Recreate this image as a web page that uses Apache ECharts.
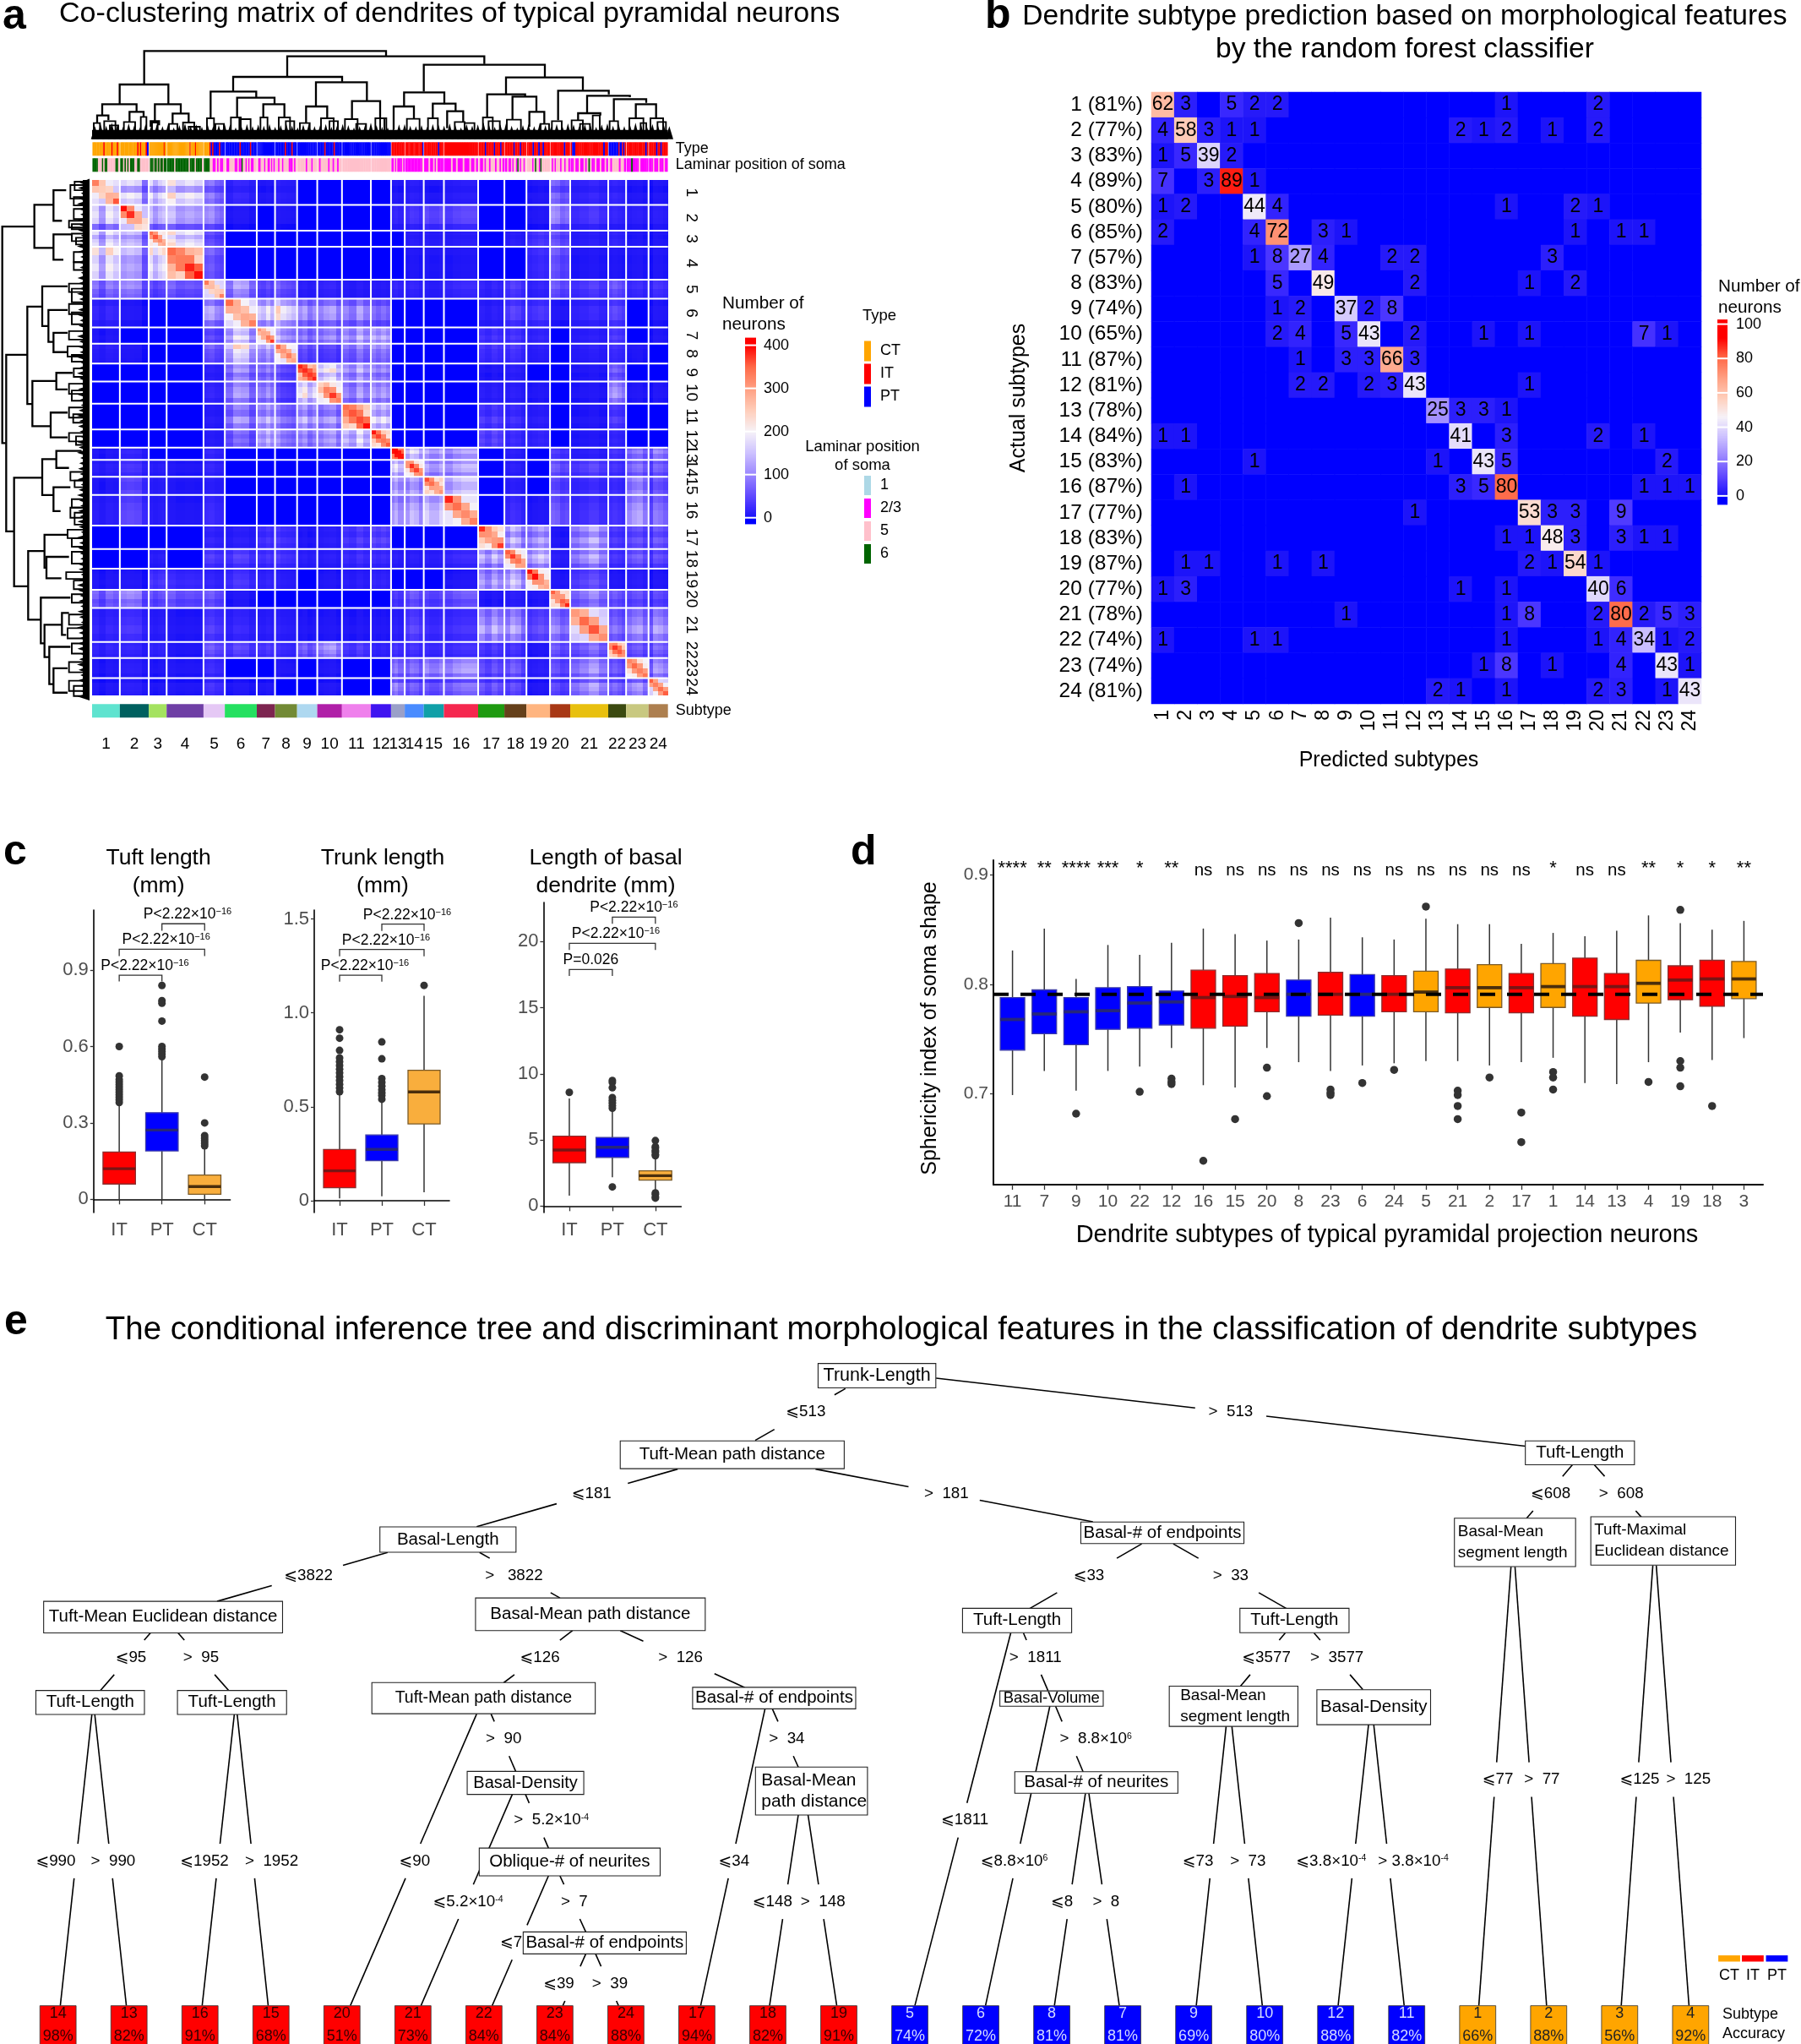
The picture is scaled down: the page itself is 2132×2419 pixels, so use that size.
<!DOCTYPE html>
<html><head><meta charset="utf-8">
<style>html,body{margin:0;padding:0;background:#fff}#c{width:2132px;height:2419px}</style>
<script src="https://cdn.jsdelivr.net/npm/echarts@6/dist/echarts.min.js"></script>
</head><body><div id="c"></div>
<script>
// ---------- DATA ----------
const subtypeNames=Array.from({length:24},(_,i)=>String(i+1));
// panel a: block sizes (neurons per cluster in the matrix)
const blockSizes=[73,76,47,97,56,84,48,58,53,65,76,53,36,50,53,90,69,58,62,53,100,47,59,51];
const subtypeColors=['#5fe3cf','#00605f','#a4e260','#6f3fa5','#e5c8f5','#25e060','#7d2550','#728a35','#aed8f0','#b020a8','#ef80ec','#3f14f0','#9aa0c8','#4a8cff','#10a0a8','#f5284f','#1f9a10','#65401a','#ffb580','#a83815','#e8c00f','#3b4a10','#c8c880','#ad7f4f'];
// upper triangle of mean co-clustering between subtypes
const coUpper=[
[140,150,170,70,15,5,10,0,0,0,0,5,10,5,10,0,0,5,60,15,15,5,5],
[120,110,80,5,0,5,0,0,0,0,15,25,40,40,0,0,5,80,25,15,10,10],
[180,45,0,0,0,0,0,0,0,0,10,10,10,0,10,30,50,10,15,5,5],
[55,0,0,0,0,0,0,0,0,5,5,5,0,0,20,50,5,5,5,5],
[90,40,50,10,15,8,8,15,15,10,20,15,30,15,50,30,50,20,25],
[130,150,85,85,80,60,0,0,0,0,10,30,25,5,15,35,0,5],
[105,75,85,105,115,0,0,0,0,25,25,15,0,10,30,0,5],
[45,35,70,85,0,0,0,0,25,25,10,0,10,20,5,0],
[160,105,90,0,0,0,0,5,10,0,0,5,55,0,0],
[90,100,0,0,0,0,10,10,5,0,5,90,5,5],
[140,0,0,0,0,30,20,10,0,5,30,0,0],
[0,0,0,0,40,20,15,0,5,15,0,0],
[140,110,105,0,10,0,30,10,25,70,80],
[105,115,0,10,0,50,35,25,65,55],
[140,0,10,0,40,20,20,85,50],
[0,20,5,55,25,25,100,70],
[110,100,5,100,30,45,50],
[115,10,90,25,50,40],
[5,40,5,10,5],
[75,50,45,40],
[60,85,90],
[50,60],
[90]];
// diagonal blocks: four values along the diagonal, then the rest of the block
const coDiag=[[330,250,280,360,195],[395,380,290,220,195],[345,360,320,290,225],[350,335,385,395,290],[335,270,250,330,195],[350,280,290,330,225],[310,290,335,375,225],[350,310,330,295,215],[385,380,375,385,320],[245,330,375,330,235],[345,360,365,395,290],[390,370,340,360,265],[398,398,395,395,385],[310,380,370,325,245],[365,345,295,310,255],[385,345,320,330,215],[380,310,305,375,255],[355,375,340,300,245],[395,395,310,290,235],[355,310,355,385,255],[305,350,360,315,195],[315,375,360,310,290],[325,350,330,340,245],[355,330,345,355,215]];
// plaid profile across each subtype
const coProfile=[[1.1,.7,1.2,1],[1.1,1.2,1.1,.5],[1.1,.8,1,1.1],[1.2,.9,1,.9],[1.1,1.2,.9,.8],[.8,1.3,1.2,.7],[1,.9,1.2,.9],[1.3,1,.9,.8],[1,1.2,.8,1],[.9,1.1,1.2,.8],[1,.8,1.3,.9],[1.1,.9,1.1,.9],[1,1.2,.9,.9],[.9,1.2,1.1,.8],[1.1,.9,.9,1.1],[.8,1,1.1,1.1],[1.1,.8,1.2,.9],[.9,1.3,1.1,.7],[.8,1,1.2,1],[1.2,1.1,.8,.9],[.8,1,1.3,.9],[1,1.2,1,.8],[.9,1.1,1.2,.8],[.6,1.2,1.1,.9]];
// annotation stripes, one string per subtype
const typeStripes=["CCCCCCCCICCCCCICCCIC","CCCCCCCCCCCCICICCCIP","CCCCCCCCCCCCCCCCCICC","CCCCCCCCCCCCCCCCCCCCCCCCCICCCCCICCCCCCCC","CCCCIPIPPPPIPPP","PPPPPPPPPPPIPPPPPPPIPPPP","PPPPPPPPPPPPPPPPPPPP","PPPPPPPIPPPPIPPP","PPPPPPPPPPPP","PPPPPIPPPPPPIPPPPP","PPPPPPPPPPPPPPPPPP","PPPPPPPPPPPP","IIIIIIIIII","IIIIIIIIIIIIIIIIIP","IIIIIIIIIIPIII","IIIIIIIIIIIIIIIIIIII","IIIIIPIIIIIIPIIIIPII","IIIIIIIPIIIIPIIII","IIIIPIIIPIIPIIII","IIIIIIIIIPIII","IPPIIIIIIIIIIIIIIIIIIPII","PPPPPPPPIPPIPI","IIIIIIIIIIIIIPI","IIIIIPIIPIIII"];
const laminarStripes=["66665556566555555665","66565656665566555555","56666566656656665666","666666566666666666566665666665","66665522525225","52255552252265525252255","522555255225252","5525525555222525","55555525552555","5255555255255255","5555555555555555","555555555555","22525222252","2222222222222225","2225225252222","22225225222522252252","52252552555255252","22522525526525525","55552565526555555","52525552552552","22522522525652252252252","5255552552","22262222522222","22252225222522"];
// top dendrogram: [x1,x2,yTop,yLeftEnd,yRightEnd]
const topMerges=[[197,1056,16,135,35],[110,283,135,205,205],[48,170,205,245,232],[235,327,205,265,238],[30,70,245,272,262],[145,195,232,268,250],[220,250,265,285,280],[298,355,238,275,268],[705,1405,35,108,62],[513,900,108,160,125],[433,595,160,255,180],[527,660,182,250,205],[620,695,205,250,250],[807,988,127,212,192],[772,847,213,272,252],[935,1035,194,255,255],[1190,1620,65,160,108],[1120,1263,163,215,205],[1083,1155,213,295,255],[1222,1303,203,255,230],[1273,1330,230,290,268],[1482,1755,110,170,155],[1415,1550,170,250,178],[1505,1590,178,258,232],[1565,1618,232,285,275],[1667,1847,157,262,170],[1770,1922,175,235,180],[1865,1980,187,265,200],[1943,2015,205,255,255],[1738,1817,237,262,245]];
const topSmall=[[18,40,272],[55,95,265],[75,105,280],[125,165,268],[185,205,250],[225,245,270],[285,315,275],[335,375,270],[355,395,285],[420,445,255],[450,480,275],[505,540,252],[535,575,258],[610,635,252],[675,715,252],[700,730,265],[750,785,272],[825,870,255],[855,885,265],[910,955,258],[950,985,275],[1018,1050,255],[1035,1057,255],[1130,1175,257],[1205,1240,255],[1300,1335,268],[1335,1370,272],[1400,1435,252],[1420,1460,265],[1485,1535,260],[1605,1635,275],[1645,1680,265],[1715,1755,262],[1745,1780,275],[1790,1815,245],[1850,1880,265],[1920,1970,255],[1960,1980,272],[1995,2040,255],[2020,2050,268]];
const topMass=[292,284,290,280,286,294,282,288,296,284,290,286,292,284,296,288,282,290,286,294,284,292,288,280,286,296,290,284,292,286,290,284,294,288,284,290,296,286,282,292,288,284,294,290,284,288,296,292,286,280,288,294,296,298,286,284,290,292,288,294,284,286,290,282,288,296,284,290,286,278,288,294,286,282,290,296,288,284,292,280,288,294,284,290,282,286,292,284,288,294,286,282,290,284,292,286,280,288,292,284,290,286,292];
// left dendrogram: [y1,y2,xStem,xTopEnd,xBottomEnd]
const leftMerges=[[157,795,8,122,20],[93,220,122,190,190],[50,140,190,235,220],[180,255,190,252,225],[535,1055,22,97,50],[393,680,97,150,115],[333,450,150,240,172],[403,497,172,240,190],[470,527,190,240,240],[612,745,115,200,180],[588,637,200,258,240],[705,778,180,240,240],[897,1217,50,150,100],[842,948,150,200,190],[818,868,200,290,245],[925,995,190,250,215],[1113,1315,100,158,145],[1065,1162,158,238,165],[1130,1193,165,245,218],[1250,1385,145,250,158],[1330,1425,158,220,175],[1295,1360,220,245,235],[1395,1505,175,250,190],[1458,1530,190,240,240]];
const leftSmall=[[25,50,265],[35,75,250],[70,95,262],[105,135,262],[140,160,245],[150,165,255],[178,200,255],[190,210,270],[232,262,262],[262,285,262],[325,350,245],[340,380,255],[385,415,245],[410,445,255],[465,490,245],[510,540,240],[535,555,255],[575,600,262],[620,650,245],[640,670,255],[690,720,245],[710,735,260],[765,790,245],[775,800,270],[880,905,250],[905,925,265],[960,985,255],[985,1015,250],[1000,1035,265],[1050,1075,240],[1075,1100,255],[1115,1150,255],[1175,1195,235],[1200,1225,262],[1240,1265,255],[1300,1330,245],[1340,1370,240],[1385,1415,255],[1440,1470,245],[1495,1525,245],[1510,1540,262]];
const leftMass=[292,286,296,288,282,290,294,284,292,286,296,290,282,288,294,286,292,296,284,288,292,282,290,296,286,284,292,288,296,282,290,286,292,284,296,288,282,290,294,286,284,292,296,288,282,290,286,292,296,284,288,282,294,290,286,292,284,296,288,282,290,294,286,292,284,288,296,282,290,286,292,294,284,288,296,290,282,286,292,288,294,284,290,296,282,288,292,286,284,296,290,282,288,294,286,292,296,284];

// panel b
const predictedPct=[81,77,83,89,80,85,57,83,74,65,87,81,78,84,83,87,77,83,87,77,78,74,74,81];
const confusion=[
[62,3,0,5,2,2,0,0,0,0,0,0,0,0,0,1,0,0,0,2,0,0,0,0],
[4,58,3,1,1,0,0,0,0,0,0,0,0,2,1,2,0,1,0,2,0,0,0,0],
[1,5,39,2,0,0,0,0,0,0,0,0,0,0,0,0,0,0,0,0,0,0,0,0],
[7,0,3,89,1,0,0,0,0,0,0,0,0,0,0,0,0,0,0,0,0,0,0,0],
[1,2,0,0,44,4,0,0,0,0,0,0,0,0,0,1,0,0,2,1,0,0,0,0],
[2,0,0,0,4,72,0,3,1,0,0,0,0,0,0,0,0,0,1,0,1,1,0,0],
[0,0,0,0,1,8,27,4,0,0,2,2,0,0,0,0,0,3,0,0,0,0,0,0],
[0,0,0,0,0,5,0,49,0,0,0,2,0,0,0,0,1,0,2,0,0,0,0,0],
[0,0,0,0,0,1,2,0,37,2,8,0,0,0,0,0,0,0,0,0,0,0,0,0],
[0,0,0,0,0,2,4,0,5,43,0,2,0,0,1,0,1,0,0,0,0,7,1,0],
[0,0,0,0,0,0,1,0,3,3,66,3,0,0,0,0,0,0,0,0,0,0,0,0],
[0,0,0,0,0,0,2,2,0,2,3,43,0,0,0,0,1,0,0,0,0,0,0,0],
[0,0,0,0,0,0,0,0,0,0,0,0,25,3,3,1,0,0,0,0,0,0,0,0],
[1,1,0,0,0,0,0,0,0,0,0,0,0,41,0,3,0,0,0,2,0,1,0,0],
[0,0,0,0,1,0,0,0,0,0,0,0,1,0,43,5,0,0,0,0,0,0,2,0],
[0,1,0,0,0,0,0,0,0,0,0,0,0,3,5,80,0,0,0,0,0,1,1,1],
[0,0,0,0,0,0,0,0,0,0,0,1,0,0,0,0,53,3,3,0,9,0,0,0],
[0,0,0,0,0,0,0,0,0,0,0,0,0,0,0,1,1,48,3,0,3,1,1,0],
[0,1,1,0,0,1,0,1,0,0,0,0,0,0,0,0,2,1,54,1,0,0,0,0],
[1,3,0,0,0,0,0,0,0,0,0,0,0,1,0,1,0,0,0,40,6,0,0,0],
[0,0,0,0,0,0,0,0,1,0,0,0,0,0,0,1,8,0,0,2,80,2,5,3],
[1,0,0,0,1,1,0,0,0,0,0,0,0,0,0,1,0,0,0,1,4,34,1,2],
[0,0,0,0,0,0,0,0,0,0,0,0,0,0,1,8,0,1,0,0,4,0,43,1],
[0,0,0,0,0,0,0,0,0,0,0,0,2,1,0,1,0,0,0,2,3,0,1,43]];

// panel c: [low whisker, Q1, median, Q3, high whisker] for IT, PT, CT
const cCats=['IT','PT','CT'];
const tuftBox=[[0,.06,.12,.186,.37],[0,.19,.272,.34,.55],[0,.02,.05,.095,.197]];
const tuftOut=[[.6,.485,.47,.46,.45,.44,.43,.42,.41,.40,.39,.38],[.84,.78,.77,.70,.60,.59,.58,.57,.56],[.48,.30,.25,.24,.23,.22,.21]];
const trunkBox=[[.012,.069,.159,.273,.567],[.024,.213,.273,.35,.537],[.045,.409,.579,.694,1.091]];
const trunkOut=[[.91,.865,.80,.76,.74,.72,.70,.68,.66,.64,.62,.60,.58],[.845,.755,.65,.63,.61,.59,.575,.56,.54],[1.146]];
const basalBox=[[.79,3.28,4.24,5.28,8.14],[2.17,3.68,4.45,5.18,7.28],[1.15,1.96,2.3,2.66,3.7]];
const basalOut=[[8.6],[9.5,9.35,8.95,8.2,8,7.8,7.6,7.4,1.45],[4.95,4.5,4.4,4.2,4.1,3.9,3.8,1,.9,.7,.6]];

// panel d
const dOrder=['11','7','9','10','22','12','16','15','20','8','23','6','24','5','21','2','17','1','14','13','4','19','18','3'];
const dTypes=['P','P','P','P','P','P','I','I','I','P','I','P','I','C','I','C','I','C','I','I','C','I','I','C'];
const dSig=['****','**','****','***','*','**','ns','ns','ns','ns','ns','ns','ns','ns','ns','ns','ns','*','ns','ns','**','*','*','**'];
const dBox=[[.699,.740,.768,.788,.831],[.721,.755,.773,.795,.851],[.703,.745,.775,.788,.805],[.721,.759,.776,.797,.836],[.725,.760,.783,.798,.827],[.742,.763,.784,.794,.838],[.708,.760,.788,.813,.851],[.706,.762,.789,.808,.846],[.742,.775,.788,.810,.840],[.729,.771,.791,.804,.841],[.721,.772,.791,.811,.861],[.726,.771,.791,.809,.843],[.728,.775,.791,.808,.841],[.730,.775,.793,.812,.860],[.730,.774,.797,.814,.855],[.726,.779,.797,.818,.855],[.729,.774,.797,.810,.837],[.733,.779,.798,.819,.847],[.710,.771,.798,.824,.844],[.709,.768,.798,.810,.849],[.729,.783,.801,.822,.863],[.756,.786,.804,.817,.856],[.731,.780,.805,.822,.850],[.751,.787,.805,.821,.858]];
const dOut=[[],[],[.682],[],[.702],[.714,.711,.709],[.639],[.677],[.724,.698],[.856],[.704,.701,.699],[.710],[.722],[.871],[.703,.699,.689,.677],[.715],[.683,.656],[.720,.715,.704],[],[],[.711],[.868,.730,.724,.707],[.689],[]];
const dRef=.791;

// panel e
const leafOrder=[14,13,16,15,20,21,22,23,24,17,18,19,5,6,8,7,9,10,12,11,1,2,3,4];
const leafAcc=[98,82,91,68,51,73,84,84,88,94,82,91,74,72,81,81,69,80,88,82,66,88,56,92];
const leafType=['I','I','I','I','I','I','I','I','I','I','I','I','P','P','P','P','P','P','P','P','C','C','C','C'];
// tree-space nodes: [label, x, y, w, h, font, text inset]
const treeNodes=[['Trunk-Length',1527,173,205,51,21.5],['Tuft-Mean path distance',1275,338,390,58,20.5],['Basal-Length',780,515,237,53,20.5],['Tuft-Mean Euclidean distance',284,677,416,66,20.5],['Basal-Mean path distance',1028,671,400,68,20.5],['Tuft-Length',157,855,189,50,20.5],['Tuft-Length',404,855,190,50,20.5],['Tuft-Mean path distance',842,846,389,65,19.5],['Basal-# of endpoints',1348,846,284,45,20.5],['Basal-Density',915,1023,203,48,20],['Basal-Mean\npath distance',1413,1040,195,100,21,7],['Oblique-# of neurites',992,1188,315,58,20.5],['Basal-# of endpoints',1053,1357,284,46,20.5],['Basal-# of endpoints',2024,501,284,45,20.5],['Tuft-Length',2751,334,190,50,20.5],['Basal-Mean\nsegment length',2638,521,211,101,19,4],['Tuft-Maximal\nEuclidean distance',2896,518,252,101,19,4],['Tuft-Length',1771,684,190,51,20.5],['Tuft-Length',2254,684,190,51,20.5],['Basal-Volume',1831,847,180,32,18.5],['Basal-Mean\nsegment length',2148,863,224,84,19,13],['Basal-Density',2392,865,198,73,20.5],['Basal-# of neurites',1909,1022,284,45,20.5]];
// tree-space edges: [x0,y0,x1,y1,label,labelX,labelY]
const LE='\u2A7D', GT='> ';
const treeEdges=[[1472,200,1315,308,LE+'513',1403,249],[1630,178,2656,320,GT+' 513',2143,249],[1180,368,830,488,LE+'181',1030,419],[1420,368,1903,478,GT+' 181',1648,419],[675,542,378,644,LE+'3822',537,590],[835,542,975,637,GT+'  3822',895,590],[262,710,175,830,LE+'95',228,761],[310,710,398,830,GT+' 95',350,761],[997,705,877,814,LE+'126',940,761],[1080,705,1297,824,GT+' 126',1185,761],[160,880,105,1488,LE+'990',97,1186],[165,880,220,1488,GT+' 990',197,1186],[408,880,352,1488,LE+'1952',356,1186],[413,880,467,1488,GT+' 1952',473,1186],[830,879,610,1488,LE+'90',722,1186],[855,879,898,999,GT+' 90',877,931],[892,1047,733,1488,LE+'5.2\u00D710^-4',815,1271],[915,1047,955,1159,GT+' 5.2\u00D710^-4',960,1101],[955,1217,857,1488,LE+'7',890,1356],[975,1217,1020,1334,GT+' 7',1000,1271],[1020,1380,980,1488,LE+'39',973,1442],[1037,1380,1077,1488,GT+' 39',1062,1442],[1332,869,1220,1488,LE+'34',1278,1186],[1345,869,1390,990,GT+' 34',1370,931],[1390,1090,1340,1488,LE+'148',1345,1271],[1407,1090,1457,1488,GT+' 148',1433,1271],[1988,524,1793,659,LE+'33',1896,590],[2043,524,2240,659,GT+' 33',2143,590],[1760,710,1593,1488,LE+'1811',1680,1101],[1782,710,1825,831,GT+' 1811',1803,761],[1828,863,1716,1488,LE+'8.8\u00D710^6',1766,1186],[1838,863,1886,1000,GT+' 8.8\u00D710^6',1908,931],[1890,1045,1836,1488,LE+'8',1849,1271],[1896,1045,1949,1488,GT+' 8',1926,1271],[2238,710,2160,821,LE+'3577',2205,761],[2288,710,2373,828,GT+' 3577',2328,761],[2135,905,2083,1488,LE+'73',2086,1186],[2145,905,2198,1488,GT+' 73',2173,1186],[2383,901,2330,1488,LE+'3.8\u00D710^-4',2318,1186],[2392,901,2445,1488,GT+'3.8\u00D710^-4',2461,1186],[2738,359,2658,471,LE+'608',2700,419],[2776,359,2858,468,GT+' 608',2823,419],[2631,572,2575,1488,LE+'77',2608,1016],[2638,572,2693,1488,GT+' 77',2685,1016],[2878,569,2823,1488,LE+'125',2855,1016],[2884,569,2941,1488,GT+' 125',2940,1016]];

// ---------- HELPERS ----------
const FF='"Liberation Sans","DejaVu Sans",Arial,sans-serif';
const TYPE_COL={C:'#ffa500',I:'#ff0000',P:'#0000ff'};
const LAM_COL={1:'#add8e6',2:'#ff00ff',5:'#ffc0cb',6:'#006400'};
const rampStops=[[0,[0,0,255]],[.012,[32,22,248]],[.06,[60,42,255]],[.125,[95,72,255]],[.25,[154,134,255]],[.375,[204,192,255]],[.5,[246,242,248]],[.625,[255,205,185]],[.75,[255,159,130]],[.875,[255,106,72]],[1,[255,0,0]]];
function ramp(t){t=Math.max(0,Math.min(1,t));for(let i=1;i<rampStops.length;i++){const [a,c0]=rampStops[i-1],[b,c1]=rampStops[i];if(t<=b){const f=(t-a)/(b-a);return 'rgb('+c0.map((c,k)=>Math.round(c+(c1[k]-c)*f)).join(',')+')';}}return 'rgb(255,0,0)';}
const grids=[],xAxes=[],yAxes=[],series=[],texts=[];
const hiddenV=(min,max,extra)=>Object.assign({type:'value',min,max,show:false,scale:false},extra||{});
function addGrid(rect,x,y){grids.push(rect);const n=grids.length-1;xAxes.push(Object.assign({gridIndex:n},x));yAxes.push(Object.assign({gridIndex:n},y));return n;}
function custom(g,arr,fn,extra){series.push(Object.assign({type:'custom',xAxisIndex:g,yAxisIndex:g,coordinateSystem:'cartesian2d',silent:true,clip:false,progressive:0,animation:false,
 data:arr.map((d,i)=>Array.isArray(d)&&d.every(v=>typeof v==='number')?d:[i]),
 renderItem:(p,api)=>fn(arr[p.dataIndex],api,p.dataIndex)},extra||{}));}
const rect=(x0,y0,x1,y1,style)=>({type:'rect',shape:{x:Math.min(x0,x1),y:Math.min(y0,y1),width:Math.abs(x1-x0),height:Math.abs(y1-y0)},style});
const pline=(pts,stroke,w,extra)=>({type:'polyline',shape:{points:pts},style:Object.assign({stroke,lineWidth:w,fill:null},extra||{})});
const txt=(s,x,y,size,opt)=>({type:'text',x,y,style:Object.assign({text:s,font:(opt&&opt.weight?opt.weight+' ':'')+size+'px '+FF,fill:(opt&&opt.fill)||'#000',textAlign:(opt&&opt.align)||'center',textVerticalAlign:(opt&&opt.va)||'middle'},(opt&&opt.style)||{})});
function T(s,x,y,size,opt){opt=opt||{};texts.push({type:'text',x,y,rotation:opt.rot||0,silent:true,z:50,style:{text:s,font:(opt.weight?opt.weight+' ':'')+size+'px '+FF,fill:opt.fill||'#000',textAlign:opt.align||'left',textVerticalAlign:'middle',lineHeight:opt.lh}});}
const textAxisStyle=(size,color)=>({fontFamily:FF,fontSize:size,color:color||'#000'});

// ---------- PANEL A ----------
const totalN=blockSizes.reduce((a,b)=>a+b,0);
const cum=[0];blockSizes.forEach(s=>cum.push(cum[cum.length-1]+s));
const mids=blockSizes.map((s,i)=>cum[i]+s/2);
const midLabel=v=>{let k=0,b=1e9;mids.forEach((m,i)=>{if(Math.abs(m-v)<b){b=Math.abs(m-v);k=i;}});return subtypeNames[k];};
const baseAt=(i,j)=>{if(i===j)return null;const a=Math.min(i,j),b=Math.max(i,j);return coUpper[a][b-a-1];};
const matCells=[];
for(let i=0;i<24;i++)for(let j=0;j<24;j++)for(let a=0;a<4;a++)for(let b=0;b<4;b++){
 let v;
 if(i===j){const D=coDiag[i];
  if(a===b)v=D[a];
  else if(Math.abs(a-b)===1)v=(D[a]+D[b])/2*.65+D[4]*.35;
  else v=D[4]*(0.85+0.3*(coProfile[i][a]*coProfile[i][b]-.85));}
 else v=baseAt(i,j)*coProfile[i][a]*coProfile[j][b];
 matCells.push([cum[j]+blockSizes[j]*b/4,cum[j]+blockSizes[j]*(b+1)/4,cum[i]+blockSizes[i]*a/4,cum[i]+blockSizes[i]*(a+1)/4,v]);
}
const gMat=addGrid({left:109,top:213,width:681.7,height:610},
 {type:'value',min:0,max:totalN,axisLine:{show:false},axisTick:{show:false},splitLine:{show:false},axisLabel:{customValues:mids,formatter:midLabel,margin:48,...textAxisStyle(19)}},
 {type:'value',min:0,max:totalN,inverse:true,position:'right',axisLine:{show:false},axisTick:{show:false},splitLine:{show:false},axisLabel:{customValues:mids,formatter:midLabel,rotate:-90,margin:18,...textAxisStyle(19)}});
custom(gMat,matCells,(d,api)=>{const p0=api.coord([d[0],d[2]]),p1=api.coord([d[1],d[3]]);const x0=Math.round(p0[0]),y0=Math.round(p0[1]),x1=Math.round(p1[0]),y1=Math.round(p1[1]);return {type:'rect',shape:{x:x0,y:y0,width:x1-x0,height:y1-y0},style:{fill:ramp(d[4]/400)}};});
const blockLines=cum.slice(1,-1);
custom(gMat,blockLines.map(v=>[v]),(d,api)=>{const a=api.coord([d[0],0]),b=api.coord([d[0],totalN]),c=api.coord([0,d[0]]),e=api.coord([totalN,d[0]]);return {type:'group',children:[rect(a[0]-1,a[1],a[0]+1,b[1],{fill:'#fff'}),rect(c[0],c[1]-1,e[0],c[1]+1,{fill:'#fff'})]};},{z:3});

function stripBar(top,h,name,strings,colMap){
 const g=addGrid({left:109,top,width:681.7,height:h},hiddenV(0,totalN),
  {type:'value',min:0,max:1,position:'right',axisLine:{show:false},axisTick:{show:false},splitLine:{show:false},axisLabel:{customValues:[.5],formatter:()=>name,margin:9,...textAxisStyle(18)}});
 const stripes=[];
 strings.forEach((s,i)=>{const w=(blockSizes[i]-2)/s.length;for(let k=0;k<s.length;k++)stripes.push([cum[i]+1+w*k,cum[i]+1+w*(k+1),s[k]]);});
 custom(g,stripes,(d,api)=>{const a=api.coord([d[0],0]),b=api.coord([d[1],1]);return rect(a[0],a[1],b[0]+.3,b[1],{fill:colMap[d[2]]});});
}
stripBar(168.3,16,'Type',typeStripes,TYPE_COL);
stripBar(187.3,16,'Laminar position of soma',laminarStripes,LAM_COL);
// subtype bar
const gSub=addGrid({left:109,top:833.3,width:681.7,height:16},hiddenV(0,totalN),
 {type:'value',min:0,max:1,position:'right',axisLine:{show:false},axisTick:{show:false},splitLine:{show:false},axisLabel:{customValues:[.5],formatter:()=>'Subtype',margin:9,...textAxisStyle(18)}});
custom(gSub,blockSizes.map((s,i)=>[cum[i],cum[i+1],i]),(d,api)=>{const a=api.coord([d[0],0]),b=api.coord([d[1],1]);return rect(a[0],a[1],b[0],b[1],{fill:subtypeColors[d[2]]});});

// dendrograms
const gTop=addGrid({left:105,top:55,width:700,height:110},hiddenV(0,2100),hiddenV(0,330,{inverse:true}));
custom(gTop,topMass.map((v,i)=>[i,v]),(d,api)=>{const x=12+d[0]*20;const a=api.coord([x-4,d[1]-9]),b=api.coord([x+24,329]);return {type:'polygon',shape:{points:[[a[0],b[1]],[(a[0]+b[0])/2,a[1]],[b[0],b[1]]]},style:{fill:'#000'}};});
custom(gTop,[[12,2057,296,329]],(d,api)=>{const a=api.coord([d[0],d[2]]),b=api.coord([d[1],d[3]]);return rect(a[0],a[1],b[0],b[1],{fill:'#000'});});
custom(gTop,topSmall,(d,api)=>pline([api.coord([d[0],300]),api.coord([d[0],d[2]]),api.coord([d[1],d[2]]),api.coord([d[1],300])],'#000',1.9));
custom(gTop,topMerges,(d,api)=>pline([api.coord([d[0],d[3]]),api.coord([d[0],d[2]]),api.coord([d[1],d[2]]),api.coord([d[1],d[4]])],'#000',2.3));
const gLeft=addGrid({left:0,top:205,width:110,height:630},hiddenV(0,330),hiddenV(0,1568,{inverse:true}));
custom(gLeft,leftMass.map((v,i)=>[i,v]),(d,api)=>{const y=20+d[0]*15.6;const a=api.coord([d[1]-9,y-4]),b=api.coord([318,y+19.6]);return {type:'polygon',shape:{points:[[b[0],a[1]],[a[0],(a[1]+b[1])/2],[b[0],b[1]]]},style:{fill:'#000'}};});
custom(gLeft,[[294,318,20,1545]],(d,api)=>{const a=api.coord([d[0],d[2]]),b=api.coord([d[1],d[3]]);return rect(a[0],a[1],b[0],b[1],{fill:'#000'});});
custom(gLeft,leftSmall,(d,api)=>pline([api.coord([300,d[0]]),api.coord([d[2],d[0]]),api.coord([d[2],d[1]]),api.coord([300,d[1]])],'#000',1.9));
custom(gLeft,leftMerges,(d,api)=>pline([api.coord([d[3],d[0]]),api.coord([d[2],d[0]]),api.coord([d[2],d[1]]),api.coord([d[4],d[1]])],'#000',2.3));

// colour bars
function colorBar(left,top,w,h,min,max,ticks,dom,labelMargin){
 const g=addGrid({left,top,width:w,height:h},hiddenV(0,1),
  {type:'value',min,max,position:'right',axisLine:{show:false},axisTick:{show:false},splitLine:{show:false},axisLabel:{customValues:ticks,margin:labelMargin,...textAxisStyle(18)}});
 const levels=[];const n=110;for(let i=0;i<n;i++)levels.push([min+(max-min)*i/n,min+(max-min)*(i+1)/n]);
 custom(g,levels,(d,api)=>{const a=api.coord([0,d[0]]),b=api.coord([1,d[1]]);return rect(a[0],a[1]+.4,b[0],b[1]-.4,{fill:ramp((d[0]+d[1])/2/dom)});});
 custom(g,ticks.map(t=>[t]),(d,api)=>{const a=api.coord([0,d[0]]),b=api.coord([1,d[0]]);return rect(a[0],a[1]-1,b[0],a[1]+1,{fill:'#fff'});},{z:3});
}
colorBar(882,400,13,220,-14.3,416.8,[0,100,200,300,400],400,9);
colorBar(2033,378.5,12,218.5,-5,102.5,[0,20,40,60,80,100],92,10);

// type / laminar legends
function swatches(left,top,w,h,names,cols,bw){
 const g=addGrid({left,top,width:w,height:h},hiddenV(0,1),
  {type:'category',data:names,inverse:true,position:'right',axisLine:{show:false},axisTick:{show:false},axisLabel:{margin:11,...textAxisStyle(18)}});
 series.push({type:'bar',xAxisIndex:g,yAxisIndex:g,barWidth:bw,silent:true,data:cols.map(c=>({value:1,itemStyle:{color:c}}))});
}
swatches(1023,402,8,81,['CT','IT','PT'],[TYPE_COL.C,TYPE_COL.I,TYPE_COL.P],24);
swatches(1023,561,8,108,['1','2/3','5','6'],[LAM_COL[1],LAM_COL[2],LAM_COL[5],LAM_COL[6]],23);

// ---------- PANEL B ----------
const confData=[];confusion.forEach((r,i)=>r.forEach((v,j)=>confData.push({value:[j,i,v],itemStyle:{color:ramp(v/92)},label:{show:v>0}})));
const gB=addGrid({left:1363,top:109,width:651,height:724},
 {type:'category',data:subtypeNames,axisLine:{show:false},axisTick:{show:false},splitLine:{show:false},axisLabel:{rotate:90,margin:7,interval:0,...textAxisStyle(23)}},
 {type:'category',data:subtypeNames.map((s,i)=>s+' ('+predictedPct[i]+'%)'),inverse:true,axisLine:{show:false},axisTick:{show:false},splitLine:{show:false},axisLabel:{margin:10,interval:0,padding:[3,0,0,0],...textAxisStyle(24.5)}});
series.push({type:'heatmap',xAxisIndex:gB,yAxisIndex:gB,silent:true,data:confData,label:{show:true,formatter:p=>p.value[2],fontFamily:FF,fontSize:23,color:'#000',padding:[2,0,0,0]},itemStyle:{borderWidth:0}});

// ---------- PANEL C ----------
const cStyle={I:{fill:'#ff0000',border:'#8a2f2f',med:'#7a1414'},P:{fill:'#0000ff',border:'#3c3ca8',med:'#26267c'},C:{fill:'#f9ae3d',border:'#7a5a28',med:'#4a2e0c'}};
const dStyle={I:cStyle.I,P:cStyle.P,C:{fill:'#ffa500',border:'#7a5a28',med:'#4a2e0c'}};
function boxItem(x,b,st,bw,api,mw){
 const L=x-bw/2,R=x+bw/2;const c=v=>api.coord([x,v]);
 const pL=api.coord([L,b[1]]),pR=api.coord([R,b[3]]),mL=api.coord([L,b[2]]),mR=api.coord([R,b[2]]);
 return {type:'group',children:[
  pline([c(b[0]),c(b[1])],'#333',1.5),pline([c(b[3]),c(b[4])],'#333',1.5),
  rect(pL[0],pL[1],pR[0],pR[1],{fill:st.fill,stroke:st.border,lineWidth:1.3}),
  pline([mL,mR],st.med,mw)]};
}
function cPlot(rectG,ymin,ymax,ticks,fmt,boxes,outs,brackets){
 const g=addGrid(rectG,
  {type:'value',min:.4,max:3.6,axisLine:{show:true,lineStyle:{color:'#000',width:1.6}},axisTick:{show:true,customValues:[1,2,3],length:6,lineStyle:{color:'#333',width:1.3}},splitLine:{show:false},axisLabel:{customValues:[1,2,3],formatter:v=>cCats[Math.round(v)-1],margin:10,...textAxisStyle(22,'#4d4d4d')}},
  {type:'value',min:ymin,max:ymax,axisLine:{show:true,lineStyle:{color:'#000',width:1.6}},axisTick:{show:true,customValues:ticks,length:4,lineStyle:{color:'#333',width:1.3}},splitLine:{show:false},axisLabel:{customValues:ticks,formatter:fmt,margin:6,...textAxisStyle(22,'#4d4d4d')}});
 const keys=['I','P','C'];
 custom(g,boxes.map((b,i)=>[i+1,...b]),(d,api,i)=>boxItem(d[0],d.slice(1),cStyle[keys[i]],.76,api,3.4));
 const pts=[];outs.forEach((o,i)=>o.forEach(v=>pts.push([i+1,v])));
 series.push({type:'scatter',xAxisIndex:g,yAxisIndex:g,silent:true,data:pts,symbolSize:9,itemStyle:{color:'#333',opacity:1}});
 custom(g,brackets,(d,api)=>{
  const a=api.coord([d[0],d[3]]),b=api.coord([d[0],d[2]]),c=api.coord([d[1],d[2]]),e=api.coord([d[1],d[3]]);
  return {type:'group',children:[pline([a,b,c,e],'#333',1.3),
   {type:'text',x:(b[0]+c[0])/2+d[5],y:b[1]-2,style:{text:d[4],font:'17.5px '+FF,fill:'#000',textAlign:'center',textVerticalAlign:'bottom',rich:{s:{fontSize:11,fontFamily:FF,padding:[0,0,6,0]}}}}]};
 },{z:4});
}
const P16='P<2.22\u00D710{s|\u221216}';
cPlot({left:110.8,top:1077,width:161.8,height:358},-.052,1.136,[0,.3,.6,.9],v=>v===0?'0':v.toFixed(1),tuftBox,tuftOut,[[1,2,.88,.856,P16,5],[1,3,.982,.955,P16,5],[2,3,1.082,1.055,P16,5]]);
cPlot({left:372,top:1077,width:160,height:358},-.063,1.547,[0,.5,1,1.5],v=>v===0?'0':v.toFixed(1),trunkBox,trunkOut,[[1,2,1.2,1.166,P16,5],[1,3,1.337,1.301,P16,5],[2,3,1.472,1.436,P16,5]]);
cPlot({left:643.4,top:1068,width:163,height:367},-.49,22.96,[0,5,10,15,20],v=>String(v),basalBox,basalOut,[[1,2,17.89,17.4,'P=0.026',0],[1,3,19.87,19.36,P16,4],[2,3,21.85,21.34,P16,0]]);

// ---------- PANEL D ----------
const dIdx=dOrder.map((_,i)=>i+1);
const gD=addGrid({left:1176,top:1018,width:911,height:384},
 {type:'value',min:.4,max:24.6,axisLine:{show:true,lineStyle:{color:'#000',width:2}},axisTick:{show:true,customValues:dIdx,length:6,lineStyle:{color:'#333',width:1.3}},splitLine:{show:false},axisLabel:{customValues:dIdx,formatter:v=>dOrder[Math.round(v)-1],margin:10,...textAxisStyle(21,'#4d4d4d')}},
 {type:'value',min:.6172,max:.9134,axisLine:{show:true,lineStyle:{color:'#000',width:2}},axisTick:{show:true,customValues:[.7,.8,.9],length:4,lineStyle:{color:'#333',width:1.3}},splitLine:{show:false},axisLabel:{customValues:[.7,.8,.9],formatter:v=>v.toFixed(1),margin:6,...textAxisStyle(21,'#4d4d4d')}});
custom(gD,dBox.map((b,i)=>[i+1,...b]),(d,api,i)=>boxItem(d[0],d.slice(1),dStyle[dTypes[i]],.77,api,3.8));
const dPts=[];dOut.forEach((o,i)=>o.forEach(v=>dPts.push([i+1,v])));
series.push({type:'scatter',xAxisIndex:gD,yAxisIndex:gD,silent:true,data:dPts,symbolSize:9.5,itemStyle:{color:'#333',opacity:1}});
series.push({type:'line',xAxisIndex:gD,yAxisIndex:gD,silent:true,showSymbol:false,symbol:'none',z:5,data:[[.4,dRef],[24.6,dRef]],lineStyle:{color:'#000',width:4,type:[18,14]}});
custom(gD,dSig.map((s,i)=>[i+1]),(d,api,i)=>{const s=dSig[i];const st=s==='ns';const p=api.coord([i+1,st?.9044:.9105]);return txt(s,p[0],p[1]+(st?1:6),st?20.5:22,{});},{z:6});

// ---------- PANEL E ----------
const gE=addGrid({left:0,top:1530,width:2132,height:889},hiddenV(0,3136),hiddenV(0,1568,{inverse:true}));
custom(gE,treeEdges,(e,api)=>{
 const [x0,y0,x1,y1,,,ty]=e;const tc=(ty-y0)/(y1-y0);const dtx=62/Math.abs(x1-x0),dty=36/Math.abs(y1-y0);const hg=Math.min(dtx,dty);
 const P=t=>api.coord([x0+(x1-x0)*t,y0+(y1-y0)*t]);
 return {type:'group',children:[pline([P(0),P(Math.max(0,tc-hg))],'#000',1.6),pline([P(Math.min(1,tc+hg)),P(1)],'#000',1.6)]};
},{z:2});
custom(gE,treeEdges,(e,api)=>{
 const p=api.coord([e[5],e[6]]);const parts=e[4].split('^');
 const s=parts.length>1?parts[0]+'{s|'+parts[1]+'}':parts[0];
 return {type:'text',x:p[0],y:p[1],style:{text:s,font:'18.8px '+FF,fill:'#000',textAlign:'center',textVerticalAlign:'middle',rich:{s:{fontSize:10.5,fontFamily:FF,padding:[0,0,6,0]}}}};
},{z:3});
custom(gE,treeNodes,(n,api)=>{
 const a=api.coord([n[1]-n[3]/2,n[2]-n[4]/2]),b=api.coord([n[1]+n[3]/2,n[2]+n[4]/2]);
 const multi=n[0].indexOf('\n')>=0;
 return {type:'group',children:[rect(a[0],a[1],b[0],b[1],{fill:'#fff',stroke:'#222',lineWidth:1.1}),
  {type:'text',x:multi?a[0]+(n[6]||5):(a[0]+b[0])/2,y:(a[1]+b[1])/2,style:{text:n[0],font:n[5]+'px '+FF,fill:'#000',textAlign:multi?'left':'center',textVerticalAlign:'middle',lineHeight:25}}]};
},{z:4});
custom(gE,leafOrder.map((v,i)=>[101+123.6*i,v,leafAcc[i]]),(d,api,i)=>{
 const t=leafType[i];const a=api.coord([d[0]-31.5,1488]),b=api.coord([d[0]+31.5,1568]);
 const fill=TYPE_COL[t];const tc=t==='P'?'#d5dcff':(t==='I'?'#300':'#222');
 const c1=api.coord([d[0],1505]),c2=api.coord([d[0],1552]);
 return {type:'group',children:[rect(a[0],a[1],b[0],b[1]+3,{fill,stroke:'#333',lineWidth:.8}),txt(String(d[1]),c1[0],c1[1],18,{fill:tc}),txt(d[2]+'%',c2[0],c2[1],18,{fill:tc})]};
},{z:5});
const eLegend=[[2992,3030,'CT',TYPE_COL.C],[3033,3071,'IT',TYPE_COL.I],[3075,3113,'PT',TYPE_COL.P]];
custom(gE,eLegend,(d,api)=>{const a=api.coord([d[0],1383]),b=api.coord([d[1],1396]);const c=api.coord([(d[0]+d[1])/2,1426]);return {type:'group',children:[rect(a[0],a[1],b[0],b[1],{fill:d[3]}),txt(d[2],c[0],c[1],18,{})]};},{z:5});

// ---------- TEXT ----------
const LB=50;
T('a',3,20,LB,{weight:'bold'});
T('b',1166,19,LB,{weight:'bold'});
T('c',4,1009,LB,{weight:'bold'});
T('d',1007,1009,LB,{weight:'bold'});
T('e',5,1565,LB,{weight:'bold'});
T('Co-clustering matrix of dendrites of typical pyramidal neurons',70,16.5,34.1);
T('Dendrite subtype prediction based on morphological features',1663,19.5,33.6,{align:'center'});
T('by the random forest classifier',1663,58.5,33.6,{align:'center'});
T('The conditional inference tree and discriminant morphological features in the classification of dendrite subtypes',1067,1574,38.4,{align:'center'});
T('Number of',855,359,20.7);T('neurons',855,384,20.7);
T('Type',1021,374,18.5);
T('Laminar position',1021,529,18.5,{align:'center'});T('of soma',1021,551,18.5,{align:'center'});
T('Actual subtypes',1206,471,25,{align:'center',rot:Math.PI/2});
T('Predicted subtypes',1644,900,25,{align:'center'});
T('Number of',2034,339,20.7);T('neurons',2034,364,20.7);
T('Tuft length',187.6,1016,26.5,{align:'center'});T('(mm)',187.6,1049,26.5,{align:'center'});
T('Trunk length',453,1016,26.5,{align:'center'});T('(mm)',453,1049,26.5,{align:'center'});
T('Length of basal',717,1016,26.5,{align:'center'});T('dendrite (mm)',717,1049,26.5,{align:'center'});
T('Sphericity index of soma shape',1101,1217,25,{align:'center',rot:Math.PI/2});
T('Dendrite subtypes of typical pyramidal projection neurons',1642,1462,29,{align:'center'});
T('Subtype',2039,2384,18);T('Accuracy',2039,2407,18);

const chart=echarts.init(document.getElementById('c'),null,{renderer:'canvas'});
chart.setOption({backgroundColor:'#fff',animation:false,textStyle:{fontFamily:FF},tooltip:{show:false},grid:grids,xAxis:xAxes,yAxis:yAxes,series,graphic:{elements:texts}});
</script></body></html>
